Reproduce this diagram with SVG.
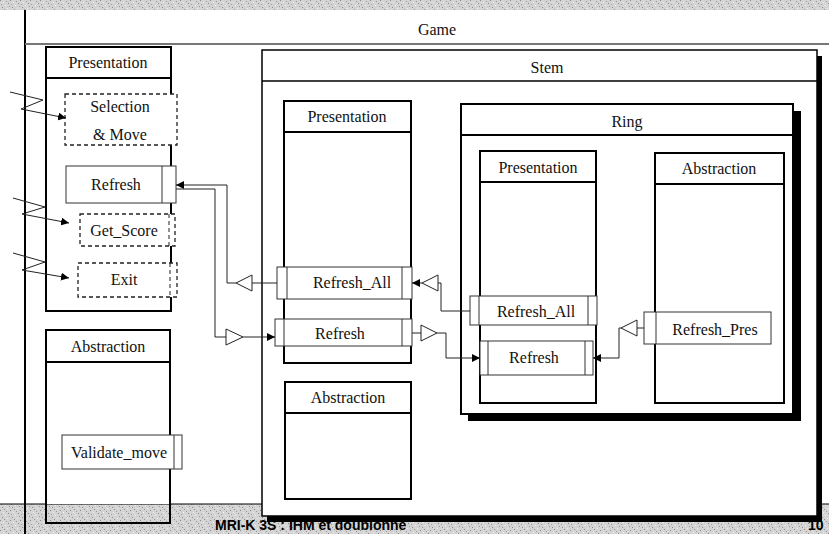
<svg xmlns="http://www.w3.org/2000/svg" width="829" height="534" viewBox="0 0 829 534">
<style>
  .t{font-family:"Liberation Serif","Times New Roman",serif;font-size:16px;fill:#111;text-anchor:middle}
  .box{fill:#fff;stroke:#000;stroke-width:2}
  .hdr{stroke:#000;stroke-width:2}
  .op{fill:#fff;stroke:#333;stroke-width:1}
  .div{stroke:#333;stroke-width:1}
  .dash{fill:#fff;stroke:#222;stroke-width:1.3;stroke-dasharray:4 3}
  .c{fill:none;stroke:#222;stroke-width:1}
  .tri{fill:#fff;stroke:#222;stroke-width:1}
  .foot{font-family:"Liberation Sans",Arial,sans-serif;font-size:14px;font-weight:bold;fill:#000}
</style>
<defs>
  <pattern id="noise" width="10" height="10" patternUnits="userSpaceOnUse">
    <rect width="10" height="10" fill="#d4d4d4"/>
    <rect x="0" y="0" width="1" height="1" fill="#8a8a8a"/>
    <rect x="6" y="1" width="1" height="1" fill="#9a9a9a"/>
    <rect x="3" y="2" width="1" height="1" fill="#f0f0f0"/>
    <rect x="8" y="3" width="1" height="1" fill="#888"/>
    <rect x="1" y="4" width="1" height="1" fill="#a0a0a0"/>
    <rect x="5" y="5" width="1" height="1" fill="#f4f4f4"/>
    <rect x="9" y="6" width="1" height="1" fill="#999"/>
    <rect x="2" y="7" width="1" height="1" fill="#8e8e8e"/>
    <rect x="7" y="8" width="1" height="1" fill="#eeeeee"/>
    <rect x="4" y="9" width="1" height="1" fill="#939393"/>
  </pattern>
  <marker id="ah" markerUnits="userSpaceOnUse" markerWidth="9" markerHeight="8" refX="8" refY="4" orient="auto">
    <path d="M0,0 L8,4 L0,8 z" fill="#000"/>
  </marker>
</defs>
<rect width="829" height="534" fill="#fff"/>
<rect x="0" y="0" width="829" height="10" fill="url(#noise)"/>
<rect x="0" y="504" width="829" height="30" fill="url(#noise)"/>

<g id="game">
  <rect x="25" y="10" width="810" height="494" fill="#fff"/>
  <line x1="25" y1="10" x2="25" y2="534" stroke="#000" stroke-width="2"/>
  <line x1="25" y1="44" x2="829" y2="44" stroke="#777" stroke-width="2"/>
  <line x1="0" y1="504" x2="829" y2="504" stroke="#000" stroke-width="1"/>
  <text class="t" x="437" y="35">Game</text>
</g>

<g id="game-presentation">
  <rect class="box" x="46" y="47" width="125" height="264"/>
  <line class="hdr" x1="46" y1="78" x2="171" y2="78"/>
  <text class="t" x="108" y="68">Presentation</text>
</g>
<g id="selection-move">
  <rect class="dash" x="65" y="94" width="112" height="51"/>
  <text class="t" x="120" y="112">Selection</text>
  <text class="t" x="120" y="140">&amp; Move</text>
</g>
<g id="game-refresh">
  <rect class="op" x="66" y="166" width="110" height="37"/>
  <line class="div" x1="162" y1="166" x2="162" y2="203"/>
  <text class="t" x="116" y="190">Refresh</text>
</g>
<g id="get-score">
  <rect class="dash" x="80" y="214" width="95" height="32"/>
  <line class="c" x1="169" y1="214" x2="169" y2="246" stroke-dasharray="4 3"/>
  <text class="t" x="124" y="236">Get_Score</text>
</g>
<g id="exit">
  <rect class="dash" x="78" y="263" width="99" height="34"/>
  <line class="c" x1="170" y1="263" x2="170" y2="297" stroke-dasharray="4 3"/>
  <text class="t" x="124" y="285">Exit</text>
</g>

<g id="game-abstraction">
  <rect x="46" y="330" width="124" height="174" fill="#fff"/>
  <rect x="46" y="330" width="124" height="193" fill="none" stroke="#000" stroke-width="2"/>
  <line class="hdr" x1="46" y1="362" x2="170" y2="362"/>
  <text class="t" x="108" y="352">Abstraction</text>
</g>
<g id="validate-move">
  <rect class="op" x="62" y="435" width="120" height="34"/>
  <line class="div" x1="174" y1="435" x2="174" y2="469"/>
  <text class="t" x="119" y="458">Validate_move</text>
</g>

<g id="stem">
  <rect x="267" y="56" width="555" height="466" fill="#000"/>
  <rect x="262" y="50" width="555" height="466" fill="#fff" stroke="#000" stroke-width="1.5"/>
  <line x1="262" y1="81" x2="817" y2="81" stroke="#000" stroke-width="1.5"/>
  <text class="t" x="547" y="73">Stem</text>
</g>
<g id="stem-presentation">
  <rect class="box" x="284" y="101" width="127" height="262"/>
  <line class="hdr" x1="284" y1="132" x2="411" y2="132"/>
  <text class="t" x="347" y="122">Presentation</text>
</g>
<g id="stem-abstraction">
  <rect class="box" x="285" y="382" width="126" height="117"/>
  <line class="hdr" x1="285" y1="413" x2="411" y2="413"/>
  <text class="t" x="348" y="403">Abstraction</text>
</g>
<g id="stem-refresh-all">
  <rect class="op" x="277" y="267" width="135" height="32"/>
  <line class="div" x1="287" y1="267" x2="287" y2="299"/>
  <line class="div" x1="402" y1="267" x2="402" y2="299"/>
  <text class="t" x="352" y="288">Refresh_All</text>
</g>
<g id="stem-refresh">
  <rect class="op" x="275" y="319" width="137" height="27"/>
  <line class="div" x1="284" y1="319" x2="284" y2="346"/>
  <line class="div" x1="402" y1="319" x2="402" y2="346"/>
  <text class="t" x="340" y="339">Refresh</text>
</g>

<g id="ring">
  <rect x="468" y="111" width="333" height="310" fill="#000"/>
  <rect x="461" y="104" width="332" height="310" fill="#fff" stroke="#000" stroke-width="2"/>
  <line class="hdr" x1="461" y1="135" x2="793" y2="135"/>
  <text class="t" x="627" y="127">Ring</text>
</g>
<g id="ring-presentation">
  <rect class="box" x="480" y="151" width="116" height="252"/>
  <line class="hdr" x1="480" y1="182" x2="596" y2="182"/>
  <text class="t" x="538" y="173">Presentation</text>
</g>
<g id="ring-abstraction">
  <rect class="box" x="655" y="153" width="129" height="250"/>
  <line class="hdr" x1="655" y1="184" x2="784" y2="184"/>
  <text class="t" x="719" y="174">Abstraction</text>
</g>
<g id="ring-refresh-all">
  <rect class="op" x="470" y="296" width="127" height="29"/>
  <line class="div" x1="479" y1="296" x2="479" y2="325"/>
  <line class="div" x1="588" y1="296" x2="588" y2="325"/>
  <text class="t" x="536" y="317">Refresh_All</text>
</g>
<g id="ring-refresh">
  <rect class="op" x="480" y="341" width="113" height="34"/>
  <line class="div" x1="488" y1="341" x2="488" y2="375"/>
  <line class="div" x1="585" y1="341" x2="585" y2="375"/>
  <text class="t" x="534" y="363">Refresh</text>
</g>
<g id="refresh-pres">
  <rect class="op" x="644" y="312" width="127" height="32"/>
  <line class="div" x1="656" y1="312" x2="656" y2="344"/>
  <text class="t" x="715" y="335">Refresh_Pres</text>
</g>

<g id="connectors">
  <polyline class="c" points="10,92 43,100 21,109 66,118" marker-end="url(#ah)"/>
  <polyline class="c" points="13,198 45,207 22,214 69,223" marker-end="url(#ah)"/>
  <polyline class="c" points="13,253 45,262 22,270 69,278" marker-end="url(#ah)"/>

  <polyline class="c" points="470,311 441,311 441,283 438,283"/>
  <polygon class="tri" points="438,275 438,291 422,283"/>
  <line class="c" x1="422" y1="283" x2="412" y2="283" marker-end="url(#ah)"/>

  <line class="c" x1="412" y1="333" x2="421" y2="333"/>
  <polygon class="tri" points="421,325 421,341 437,333"/>
  <polyline class="c" points="437,333 446,333 446,358 480,358" marker-end="url(#ah)"/>

  <line class="c" x1="644" y1="328" x2="637" y2="328"/>
  <polygon class="tri" points="637,320 637,336 621,328"/>
  <polyline class="c" points="621,328 619,328 619,358 593,358" marker-end="url(#ah)"/>

  <line class="c" x1="277" y1="283" x2="252" y2="283"/>
  <polygon class="tri" points="252,275 252,291 236,283"/>
  <polyline class="c" points="236,283 227,283 227,185 176,185" marker-end="url(#ah)"/>

  <polyline class="c" points="176,189 215,189 215,337 226,337"/>
  <polygon class="tri" points="226,329 226,345 243,337"/>
  <line class="c" x1="243" y1="337" x2="275" y2="337" marker-end="url(#ah)"/>
</g>

<text class="foot" x="215" y="530">MRI-K 3S : IHM et doublonne</text>
<text class="foot" x="808" y="530">10</text>
</svg>
